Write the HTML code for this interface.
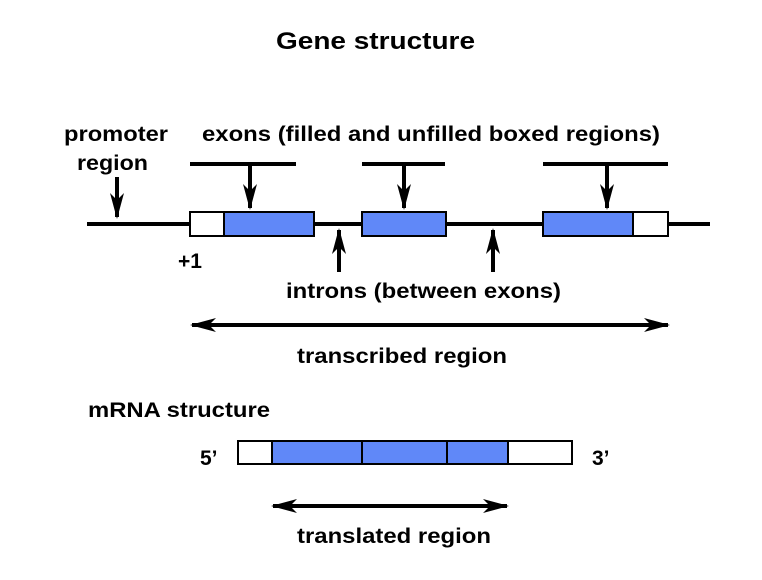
<!DOCTYPE html>
<html><head><style>body{margin:0;background:#fff}svg{display:block}text{font-family:"Liberation Sans",Arial,sans-serif;font-size:21px;font-weight:bold;fill:#000}</style></head><body>
<svg width="762" height="580" viewBox="0 0 762 580">
<defs>
<marker id="b" markerWidth="26" markerHeight="14" refX="24" refY="7" orient="auto-start-reverse" markerUnits="userSpaceOnUse"><path d="M0,0 L26,7 L0,14 L7,7z" fill="#000"/></marker></defs>
<text x="276" y="49" style="font-size:24px" textLength="199" lengthAdjust="spacingAndGlyphs">Gene structure</text>
<text x="64" y="141" textLength="104" lengthAdjust="spacingAndGlyphs">promoter</text><text x="77" y="170" textLength="71" lengthAdjust="spacingAndGlyphs">region</text>
<text x="202" y="141" textLength="458" lengthAdjust="spacingAndGlyphs">exons (filled and unfilled boxed regions)</text>
<g stroke="#000" stroke-width="4" fill="none">
<line x1="87" y1="224" x2="710" y2="224"/>
<line x1="190" y1="164" x2="296" y2="164"/><line x1="362" y1="164" x2="445" y2="164"/><line x1="543" y1="164" x2="668" y2="164"/>
</g>
<g stroke="#000" stroke-width="4">
<line x1="250" y1="164" x2="250" y2="208" marker-end="url(#b)"/>
<line x1="404" y1="164" x2="404" y2="208" marker-end="url(#b)"/>
<line x1="607" y1="164" x2="607" y2="208" marker-end="url(#b)"/>
<line x1="117" y1="177" x2="117" y2="217" marker-end="url(#b)"/>
<line x1="339" y1="272" x2="339" y2="230" marker-end="url(#b)"/>
<line x1="493" y1="272" x2="493" y2="230" marker-end="url(#b)"/>
<line x1="192" y1="325" x2="668" y2="325" marker-start="url(#b)" marker-end="url(#b)"/>
<line x1="273" y1="506" x2="507" y2="506" marker-start="url(#b)" marker-end="url(#b)"/>
</g>
<g stroke="#000" stroke-width="2">
<rect x="190" y="212" width="34" height="24" fill="#fff"/><rect x="224" y="212" width="90" height="24" fill="#6088f8"/>
<rect x="362" y="212" width="84" height="24" fill="#6088f8"/>
<rect x="543" y="212" width="90" height="24" fill="#6088f8"/><rect x="633" y="212" width="35" height="24" fill="#fff"/>
<rect x="238" y="441" width="334" height="23" fill="#fff"/>
<rect x="272" y="441" width="236" height="23" fill="#6088f8"/>
<line x1="362" y1="441" x2="362" y2="464"/><line x1="447" y1="441" x2="447" y2="464"/>
</g>
<text x="178" y="268" textLength="24" lengthAdjust="spacingAndGlyphs">+1</text>
<text x="286" y="298" textLength="275" lengthAdjust="spacingAndGlyphs">introns (between exons)</text>
<text x="297" y="363" textLength="210" lengthAdjust="spacingAndGlyphs">transcribed region</text>
<text x="88" y="417" textLength="182" lengthAdjust="spacingAndGlyphs">mRNA structure</text>
<text x="200" y="465">5’</text><text x="592" y="465">3’</text>
<text x="297" y="543" textLength="194" lengthAdjust="spacingAndGlyphs">translated region</text>
</svg></body></html>
